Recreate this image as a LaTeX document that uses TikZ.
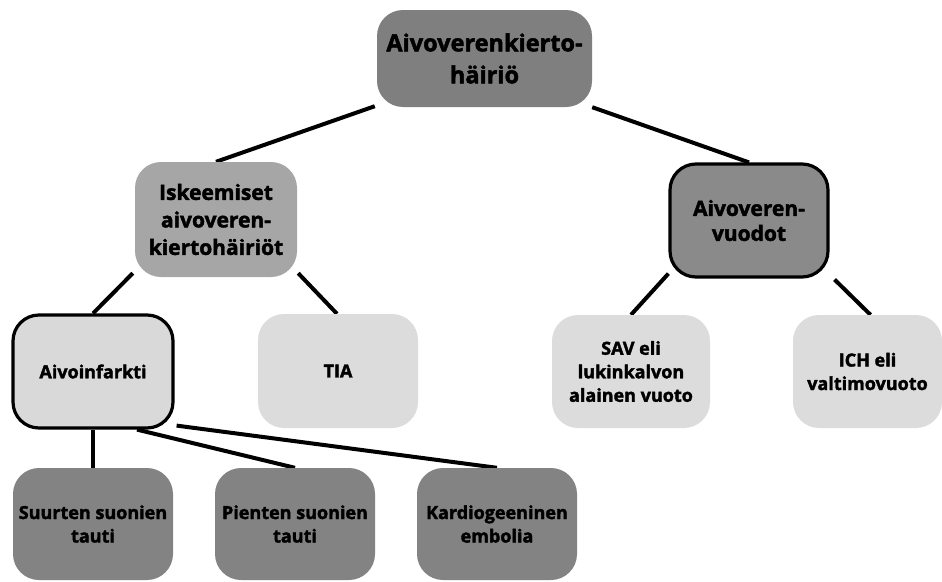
\documentclass[tikz,border=0pt]{standalone}
\usepackage{fontspec}
\setmainfont{Open Sans}[BoldFeatures={FakeBold=2}]
\usetikzlibrary{backgrounds}
\begin{document}
\begin{tikzpicture}[x=1pt,y=-1pt,
  box/.style={rounded corners=26pt, inner sep=2pt, align=center, font=\bfseries\fontsize{18}{23.5}\selectfont, text=black},
  outlined/.style={draw=black, line width=3.2pt},
  conn/.style={line width=4pt, black}
]
\useasboundingbox (0,0) rectangle (942,581);
\definecolor{gdark}{HTML}{7F7F7F}
\definecolor{gbot}{HTML}{838383}
\definecolor{gmid}{HTML}{A6A6A6}
\definecolor{gvuo}{HTML}{8A8A8A}
\definecolor{glight}{HTML}{D9D9D9}
\definecolor{glight2}{HTML}{DCDCDC}

\node[box, fill=gdark, minimum width=215pt, minimum height=97pt, font=\bfseries\fontsize{23.5}{32}\selectfont] (top) at (484.5,58.5) {Aivoverenkierto-\\häiriö};
\node[box, fill=gmid, minimum width=162pt, minimum height=115pt, font=\bfseries\fontsize{21}{27.5}\selectfont] (isk) at (216,219.5) {Iskeemiset\\aivoveren-\\kiertohäiriöt};
\node[box, fill=gvuo, outlined, minimum width=158pt, minimum height=113pt, font=\bfseries\fontsize{21}{25}\selectfont] (vuo) at (749,220.5) {Aivoveren-\\vuodot};
\node[box, fill=glight, outlined, minimum width=160pt, minimum height=113pt] (inf) at (93,371.5) {Aivoinfarkti};
\node[box, fill=glight2, minimum width=160pt, minimum height=114pt] (tia) at (338,371) {TIA};
\node[box, fill=glight2, minimum width=158pt, minimum height=113pt] (sav) at (631,371.5) {SAV eli\\lukinkalvon\\alainen vuoto};
\node[box, fill=glight2, minimum width=149pt, minimum height=113pt] (ich) at (867.5,371.5) {ICH eli\\valtimovuoto};
\node[box, fill=gbot, minimum width=160pt, minimum height=112pt] (suu) at (93,524) {Suurten suonien\\tauti};
\node[box, fill=gbot, minimum width=160pt, minimum height=112pt] (pie) at (295,524) {Pienten suonien\\tauti};
\node[box, fill=gbot, minimum width=160pt, minimum height=112pt] (kar) at (497,524) {Kardiogeeninen\\embolia};

\begin{scope}[on background layer]
\draw[conn] ([shift={(-2,-1)}]top.south west) -- (isk.north);
\draw[conn] ([shift={(0,0)}]top.south east) -- (vuo.north);
\draw[conn] ([shift={(-2,-4)}]isk.south west) -- (inf.north);
\draw[conn] ([shift={(1,-4)}]isk.south east) -- ([xshift=-1pt]tia.north);
\draw[conn] ([shift={(0,-5)}]vuo.south west) -- (sav.north);
\draw[conn] ([shift={(5,1)}]vuo.south east) -- ([xshift=3pt]ich.north);
\draw[conn] (inf.south) -- (suu.north);
\draw[conn] ([xshift=44pt]inf.south) -- (pie.north);
\draw[conn] ([shift={(2,-4)}]inf.south east) -- (kar.north);
\end{scope}
\end{tikzpicture}
\end{document}
